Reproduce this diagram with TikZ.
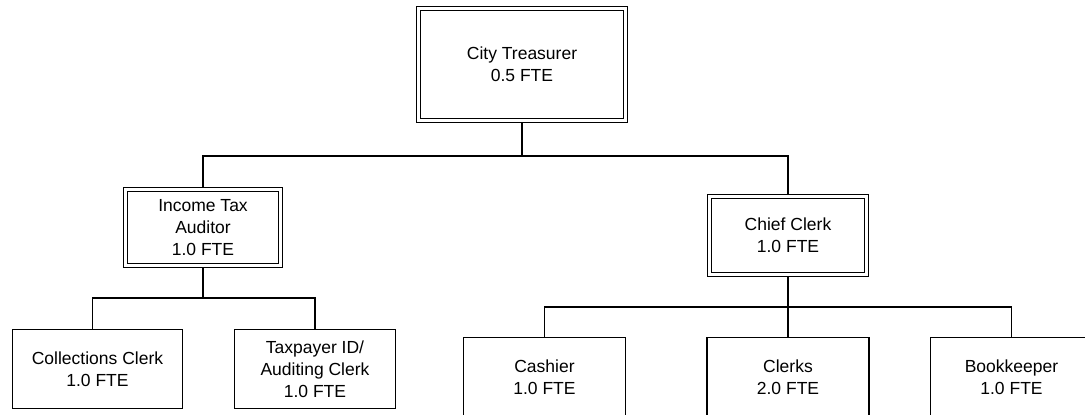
\documentclass[tikz,border=0pt]{standalone}
\usepackage{fontspec}
\setmainfont{Liberation Sans}
\usetikzlibrary{backgrounds}
\begin{document}
\begin{tikzpicture}[x=1pt,y=-1pt,
  every node/.style={inner sep=0pt, outer sep=0pt, align=center,
    font=\fontsize{17.5}{22}\selectfont},
  single/.style={draw=black, line width=1.1pt},
  dbl/.style={draw=black, double=white, line width=1.2pt, double distance=2.6pt},
  conn/.style={draw=black, line width=1.1pt}]
\useasboundingbox (0,0) rectangle (1085,415);
\clip (0,0) rectangle (1085,415);
% top level
\node[dbl, minimum width=207pt, minimum height=112pt] (ct) at (522,64.5) {City Treasurer\\0.5 FTE};
% second level
\node[dbl, minimum width=155pt, minimum height=76pt] (ita) at (203,227.5) {Income Tax\\Auditor\\1.0 FTE};
\node[dbl, minimum width=157pt, minimum height=78pt] (cc) at (788,235.5) {Chief Clerk\\1.0 FTE};
% third level
\node[single, minimum width=170pt, minimum height=79pt] (col) at (97.5,369) {Collections Clerk\\1.0 FTE};
\node[single, minimum width=161pt, minimum height=79pt] (tax) at (315,369) {Taxpayer ID/\\Auditing Clerk\\1.0 FTE};
\node[single, minimum width=162pt, minimum height=79pt] (cas) at (544.5,377) {Cashier\\1.0 FTE};
\node[single, minimum width=162pt, minimum height=79pt] (clk) at (788,377) {Clerks\\2.0 FTE};
\node[single, minimum width=162pt, minimum height=79pt] (bk) at (1011.5,377) {Bookkeeper\\1.0 FTE};
% junctions
\coordinate (j1) at (522,156);
\coordinate (j2) at (203,298);
\coordinate (j3) at (788,307);
\begin{scope}[on background layer]
\fill[white] (0,0) rectangle (1085,415);
\draw[conn] (ct.south) -- (j1);
\draw[conn] (ita.north) |- (j1) -| (cc.north);
\draw[conn] (ita.south) -- (j2);
\draw[conn] ([xshift=-5pt]col.north) |- (j2) -| (tax.north);
\draw[conn] (cc.south) -- (j3);
\draw[conn] (cas.north) |- (j3) -| (bk.north);
\draw[conn] (clk.north) -- (j3);
\end{scope}
\end{tikzpicture}
\end{document}
